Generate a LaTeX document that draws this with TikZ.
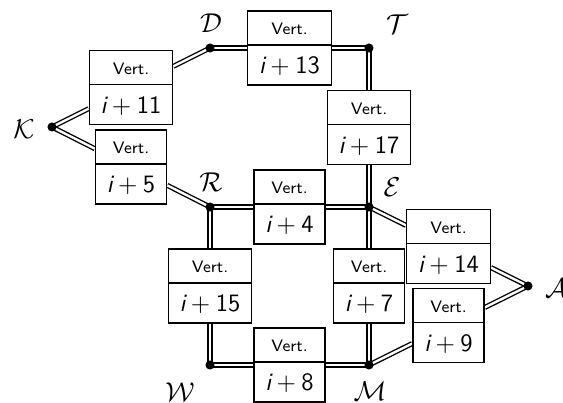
\documentclass[tikz,border=0pt]{standalone}
\usetikzlibrary{shapes.multipart,calc,backgrounds}
\newcommand{\vcell}[1]{{\fontsize{7.3}{8}\selectfont\rule[-4.1pt]{0pt}{14.4pt}Vert.}\nodepart{two}{\fontsize{11}{13}\selectfont\rule[-4.8pt]{0pt}{17.1pt}$\textsf{\itshape i}+\textsf{#1}$}}
\newcommand{\calabel}[1]{\fontsize{12.5}{14}\selectfont$\mathcal{#1}$}
\begin{document}
\begin{tikzpicture}[x=0.44pt,y=-0.44pt,
  dot/.style={circle,fill=black,inner sep=0pt,minimum size=4pt},
  vbox/.style={draw,line width=0.6pt,fill=white,rectangle split,rectangle split parts=2,inner ysep=0pt,inner xsep=5pt,font=\sffamily},
  dbl/.style={double,double distance=1.05pt,line width=0.6pt},
  lab/.style={inner sep=0pt}]
\useasboundingbox (0,0) rectangle (563,403);
% junction dots
\node[dot] (D) at (210,48) {};
\node[dot] (T) at (369,48) {};
\node[dot] (K) at (52,127) {};
\node[dot] (R) at (210,207) {};
\node[dot] (E) at (369,207) {};
\node[dot] (A) at (528,286) {};
\node[dot] (W) at (210,365) {};
\node[dot] (M) at (369,365) {};
% labels
\node[lab] (lD) at (211,23) {\calabel{D}};
\node[lab] (lT) at (397,24) {\calabel{T}};
\node[lab] (lK) at (24,129) {\calabel{K}};
\node[lab] (lR) at (211,182) {\calabel{R}};
\node[lab] (lE) at (392,187) {\calabel{E}};
\node[lab] (lA) at (556,288) {\calabel{A}};
\node[lab] (lW) at (180,392) {\calabel{W}};
\node[lab] (lM) at (370,391) {\calabel{M}};
% boxes
\node[vbox] (b11) at ($(K)!0.5!(D)$) {\vcell{11}};
\node[vbox] (b13) at ($(D)!0.5!(T)$) {\vcell{13}};
\node[vbox] (b17) at ($(T)!0.5!(E)$) {\vcell{17}};
\node[vbox] (b5) at ($(K)!0.5!(R)$) {\vcell{5}};
\node[vbox] (b4) at ($(R)!0.5!(E)$) {\vcell{4}};
\node[vbox] (b15) at ($(R)!0.5!(W)$) {\vcell{15}};
\node[vbox] (b7) at ($(E)!0.5!(M)$) {\vcell{7}};
\node[vbox] (b14) at ($(E)!0.5!(A)$) {\vcell{14}};
\node[vbox] (b9) at ($(M)!0.5!(A)$) {\vcell{9}};
\node[vbox] (b8) at ($(W)!0.5!(M)$) {\vcell{8}};
\begin{pgfonlayer}{background}
\foreach \a/\b/\c in {K/b11/D, D/b13/T, T/b17/E, K/b5/R, R/b4/E, R/b15/W, E/b7/M, E/b14/A, M/b9/A, W/b8/M}{
  \draw[dbl] (\a.center) -- (\b);
  \draw[dbl] (\b) -- (\c.center);
}
\end{pgfonlayer}
\end{tikzpicture}
\end{document}
